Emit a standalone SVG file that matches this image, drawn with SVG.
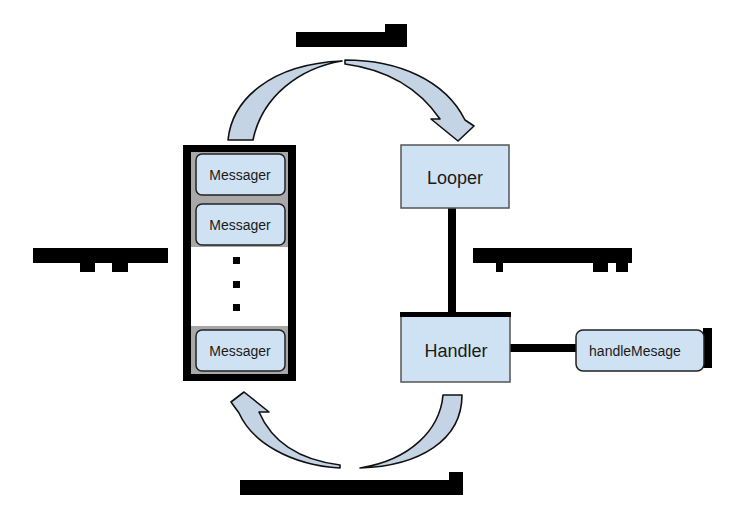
<svg xmlns="http://www.w3.org/2000/svg" width="737" height="512" viewBox="0 0 737 512">
<style>
.box{fill:#cfe2f3;stroke:#555;stroke-width:1.5}
.msg{fill:#cfe2f3;stroke:#222;stroke-width:1.5}
.lbl{font-family:"Liberation Sans",Arial,sans-serif;fill:#1a1a1a;text-anchor:middle}
.arc{fill:#c4d4e4;stroke:#111;stroke-width:1.6;stroke-linejoin:round}
.link{stroke:#000;stroke-width:8;fill:none}
.blob{fill:#000}
</style>
<rect width="737" height="512" fill="#fff"/>
<g id="connectors">
<path class="arc" d="M228 140 C232 100,270 64,342 61 C300 68,262 96,253 140 Z"/>
<path class="arc" d="M345 60 C398 60,445 80,465 120 L474 126 L458 141 L431 119 L440 119 C420 90,390 70,345 64 Z"/>
<path class="arc" d="M443 395 L462 395 C462 440,420 466,360 468 C410 460,440 430,443 395 Z"/>
<path class="arc" d="M340 468 C290 465,252 442,239 413 L231 402 L244 392 L269 412 L259 412 C272 442,300 460,340 465 Z"/>
<line class="link" x1="452" y1="208" x2="452" y2="314"/>
<line class="link" x1="510" y1="348" x2="577" y2="348"/>
</g>
<g id="labels">
<rect class="blob" x="296" y="32" width="111" height="15"/>
<rect class="blob" x="385" y="24" width="22" height="9"/>
<rect class="blob" x="33" y="248" width="135" height="15"/>
<rect class="blob" x="80" y="262" width="15" height="10"/>
<rect class="blob" x="112" y="262" width="16" height="10"/>
<rect class="blob" x="473" y="248" width="159" height="15"/>
<rect class="blob" x="496" y="262" width="7" height="10"/>
<rect class="blob" x="593" y="262" width="15" height="10"/>
<rect class="blob" x="616" y="262" width="12" height="10"/>
<rect class="blob" x="240" y="480" width="223" height="15"/>
<rect class="blob" x="449" y="472" width="14" height="9"/>
</g>
<g id="queue">
<rect x="187" y="149" width="105" height="228" fill="#fff" stroke="#000" stroke-width="8"/>
<rect x="191" y="152" width="97" height="95" fill="#a8a8a8"/>
<rect x="191" y="326" width="97" height="48" fill="#a8a8a8"/>
<rect class="msg" x="196" y="154" width="89" height="41" rx="6"/>
<text class="lbl" x="240" y="180" font-size="14">Messager</text>
<rect class="msg" x="196" y="204" width="89" height="41" rx="6"/>
<text class="lbl" x="240" y="230" font-size="14">Messager</text>
<rect class="blob" x="233" y="257" width="7" height="7"/>
<rect class="blob" x="233" y="281" width="7" height="7"/>
<rect class="blob" x="233" y="304" width="7" height="7"/>
<rect class="msg" x="196" y="330" width="89" height="41" rx="6"/>
<text class="lbl" x="240" y="356" font-size="14">Messager</text>
</g>
<g id="looper">
<rect class="box" x="401" y="145" width="108" height="63"/>
<text class="lbl" x="455" y="184" font-size="18">Looper</text>
</g>
<g id="handler">
<rect class="box" x="401" y="315" width="109" height="67"/>
<rect class="blob" x="400" y="312" width="111" height="5"/>
<text class="lbl" x="456" y="357" font-size="18">Handler</text>
</g>
<g id="handleMesage">
<rect class="blob" x="703" y="328" width="9" height="40"/>
<rect class="msg" x="576" y="330" width="128" height="41" rx="7"/>
<text class="lbl" x="635" y="356" font-size="14">handleMesage</text>
</g>
</svg>
